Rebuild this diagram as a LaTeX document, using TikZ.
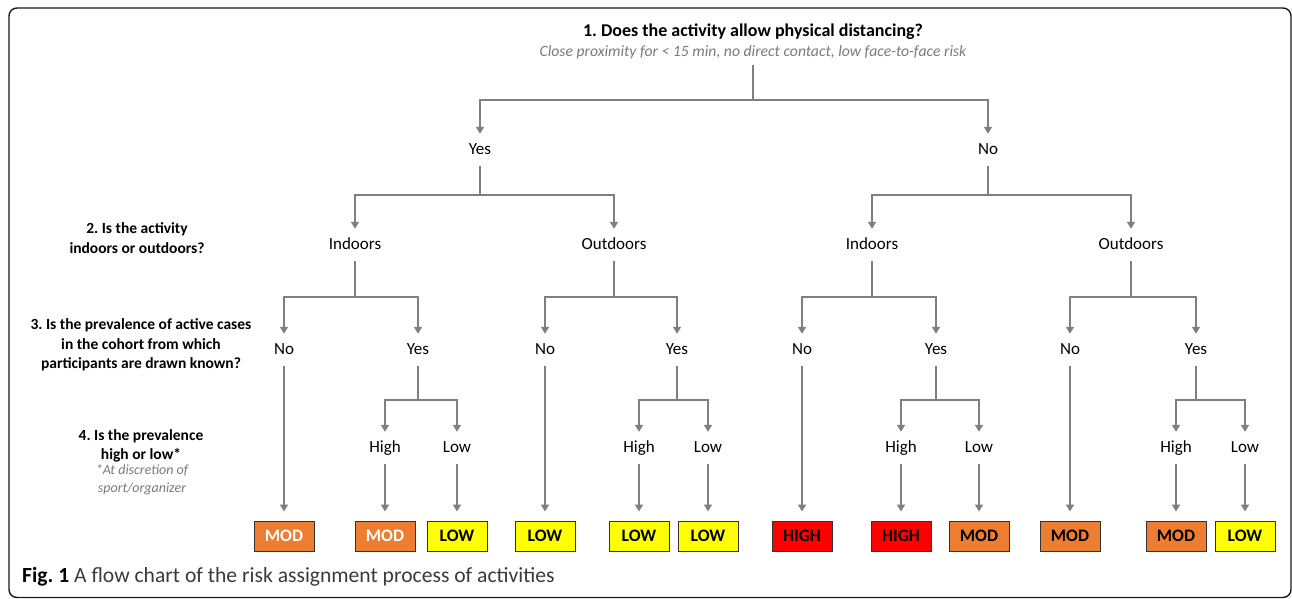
\documentclass[tikz,border=0pt]{standalone}
\usepackage{fontspec}
\setmainfont{Carlito}
\usetikzlibrary{arrows.meta}
\frenchspacing
\definecolor{linegray}{HTML}{7F7F7F}
\definecolor{notegray}{HTML}{7A7A7A}
\definecolor{capgray}{HTML}{3A3A3A}
\definecolor{modorange}{HTML}{ED7D31}
\definecolor{lowyellow}{HTML}{FFFF00}
\definecolor{highred}{HTML}{FF0000}
\tikzset{
  ans/.style={font=\fontsize{17}{20}\selectfont, text height=12pt, text depth=4pt, inner xsep=2pt, inner ysep=8pt},
  quest/.style={font=\bfseries\fontsize{15.5}{19.5}\selectfont, align=center, inner sep=0pt},
  note/.style={font=\itshape\fontsize{15.7}{18}\selectfont, text=notegray, align=center, inner sep=0pt},
  conn/.style={draw=linegray, line width=2pt, -{Triangle[length=7pt,width=8pt]}},
  toout/.style={conn, shorten >=9pt},
  risk/.style={draw=black!80, line width=1pt, minimum width=60pt, minimum height=30pt, inner sep=0pt, font=\bfseries\fontsize{17.5}{18}\selectfont},
  mod/.style={risk, fill=modorange},
  low/.style={risk, fill=lowyellow},
  high/.style={risk, fill=highred}
}
\begin{document}
\begin{tikzpicture}[x=1pt, y=-1pt]
\useasboundingbox (0,0) rectangle (1292,599);
\draw[rounded corners=8pt, line width=1.4pt, black!90] (9,8) rectangle (1291,597.5);

% question 1
\node[font=\bfseries\fontsize{18}{20}\selectfont, inner sep=0pt] (q1) at (753,32) {1. Does the activity allow physical distancing?};
\node[note] (q1note) at (753,52) {Close proximity for < 15 min, no direct contact, low face-to-face risk};

% questions on the left
\node[quest] (q2) at (137,238) {2. Is the activity\\indoors or outdoors?};
\node[quest] (q3) at (141,345) {3. Is the prevalence of active cases\\in the cohort from which\\participants are drawn known?};
\node[quest] (q4) at (141,446) {4. Is the prevalence\\high or low*};
\node[note, font=\itshape\fontsize{14}{18}\selectfont] (q4note) at (142,480) {*At discretion of\\sport/organizer};

% level 1
\node[ans] (yes) at (480,150) {Yes};
\node[ans] (no) at (988,150) {No};

% level 2
\node[ans] (yin) at (355,245) {Indoors};
\node[ans] (yout) at (614,245) {Outdoors};
\node[ans] (nin) at (872,245) {Indoors};
\node[ans] (nout) at (1131,245) {Outdoors};

% level 3
\node[ans] (yinno) at (284,350) {No};
\node[ans] (yinyes) at (418,350) {Yes};
\node[ans] (youtno) at (545,350) {No};
\node[ans] (youtyes) at (677,350) {Yes};
\node[ans] (ninno) at (802,350) {No};
\node[ans] (ninyes) at (936,350) {Yes};
\node[ans] (noutno) at (1070,350) {No};
\node[ans] (noutyes) at (1196,350) {Yes};

% level 4
\node[ans] (yinhi) at (385,448) {High};
\node[ans] (yinlo) at (457,448) {Low};
\node[ans] (youthi) at (639,448) {High};
\node[ans] (youtlo) at (708,448) {Low};
\node[ans] (ninhi) at (901,448) {High};
\node[ans] (ninlo) at (979,448) {Low};
\node[ans] (nouthi) at (1176,448) {High};
\node[ans] (noutlo) at (1245,448) {Low};

% risk levels
\node[mod, text=white] (r1) at (284,536) {MOD};
\node[mod, text=white] (r2) at (385,536) {MOD};
\node[low] (r3) at (457,536) {LOW};
\node[low] (r4) at (545,536) {LOW};
\node[low] (r5) at (639,536) {LOW};
\node[low] (r6) at (708,536) {LOW};
\node[high] (r7) at (802,536) {HIGH};
\node[high] (r8) at (901,536) {HIGH};
\node[mod] (r9) at (979,536) {MOD};
\node[mod] (r10) at (1070,536) {MOD};
\node[mod] (r11) at (1176,536) {MOD};
\node[low] (r12) at (1245,536) {LOW};

% branches
\draw[conn, shorten <=6pt] (q1note.south) -- (q1note.south |- 0,100) -| (yes.north);
\draw[conn, shorten <=6pt] (q1note.south) -- (q1note.south |- 0,100) -| (no.north);

\draw[conn] (yes.south) -- (yes.south |- 0,195) -| (yin.north);
\draw[conn] (yes.south) -- (yes.south |- 0,195) -| (yout.north);
\draw[conn] (no.south) -- (no.south |- 0,195) -| (nin.north);
\draw[conn] (no.south) -- (no.south |- 0,195) -| (nout.north);

\draw[conn] (yin.south) -- (yin.south |- 0,297) -| (yinno.north);
\draw[conn] (yin.south) -- (yin.south |- 0,297) -| (yinyes.north);
\draw[conn] (yout.south) -- (yout.south |- 0,297) -| (youtno.north);
\draw[conn] (yout.south) -- (yout.south |- 0,297) -| (youtyes.north);
\draw[conn] (nin.south) -- (nin.south |- 0,297) -| (ninno.north);
\draw[conn] (nin.south) -- (nin.south |- 0,297) -| (ninyes.north);
\draw[conn] (nout.south) -- (nout.south |- 0,297) -| (noutno.north);
\draw[conn] (nout.south) -- (nout.south |- 0,297) -| (noutyes.north);

\draw[conn] (yinyes.south) -- (yinyes.south |- 0,400) -| (yinhi.north);
\draw[conn] (yinyes.south) -- (yinyes.south |- 0,400) -| (yinlo.north);
\draw[conn] (youtyes.south) -- (youtyes.south |- 0,400) -| (youthi.north);
\draw[conn] (youtyes.south) -- (youtyes.south |- 0,400) -| (youtlo.north);
\draw[conn] (ninyes.south) -- (ninyes.south |- 0,400) -| (ninhi.north);
\draw[conn] (ninyes.south) -- (ninyes.south |- 0,400) -| (ninlo.north);
\draw[conn] (noutyes.south) -- (noutyes.south |- 0,400) -| (nouthi.north);
\draw[conn] (noutyes.south) -- (noutyes.south |- 0,400) -| (noutlo.north);

% to the risk levels
\draw[toout] (yinno.south) -- (r1.north);
\draw[toout] (yinhi.south) -- (r2.north);
\draw[toout] (yinlo.south) -- (r3.north);
\draw[toout] (youtno.south) -- (r4.north);
\draw[toout] (youthi.south) -- (r5.north);
\draw[toout] (youtlo.south) -- (r6.north);
\draw[toout] (ninno.south) -- (r7.north);
\draw[toout] (ninhi.south) -- (r8.north);
\draw[toout] (ninlo.south) -- (r9.north);
\draw[toout] (noutno.south) -- (r10.north);
\draw[toout] (nouthi.south) -- (r11.north);
\draw[toout] (noutlo.south) -- (r12.north);

% caption
\node[anchor=west, inner sep=0pt, font=\fontsize{21.6}{26}\selectfont, text=capgray] (cap) at (22,577) {\textcolor{black}{\textbf{Fig. 1}} A flow chart of the risk assignment process of activities};
\end{tikzpicture}
\end{document}
